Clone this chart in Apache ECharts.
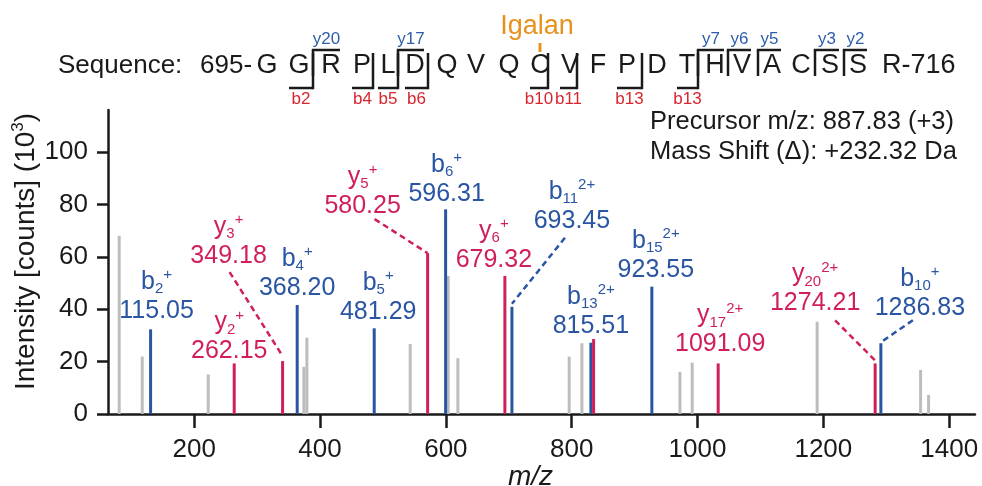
<!DOCTYPE html>
<html><head><meta charset="utf-8">
<script src="https://cdn.jsdelivr.net/npm/echarts@6/dist/echarts.min.js"></script>
<style>html,body{margin:0;padding:0;background:#fff}#c{width:982px;height:486px}</style>
</head><body><div id="c"></div>
<script>
// ---------------- data ----------------
const xTicks = [200, 400, 600, 800, 1000, 1200, 1400];
const yTicks = [0, 20, 40, 60, 80, 100];

const greyMz  = [80.8, 117.4, 222.3, 374.3, 379.1, 543.3, 603.7, 619.1, 796, 816.2, 972, 991.5, 1190.1, 1354.5, 1367.2];
const greyInt = [68.0, 21.9, 15.1, 18.0, 29.1, 26.7, 52.7, 21.3, 21.9, 27.0, 16.1, 19.6, 35.2, 16.8, 7.3];

const blueMz     = [130.7, 363.7, 486.1, 599.6, 705, 830.5, 927.4, 1291.4];
const blueInt    = [32.3, 41.6, 32.7, 78.1, 40.9, 27.2, 48.6, 27.0];
const blueIon    = ['b', 'b', 'b', 'b', 'b', 'b', 'b', 'b'];
const blueIonNum = ['2', '4', '5', '6', '11', '13', '15', '10'];
const blueCharge = ['+', '+', '+', '+', '2+', '2+', '2+', '+'];
const blueLabel  = ['115.05', '368.20', '481.29', '596.31', '693.45', '815.51', '923.55', '1286.83'];

const redMz     = [263.6, 340.5, 571, 693.8, 834.8, 1032.8, 1282.3];
const redInt    = [19.3, 20.2, 61.4, 52.7, 28.6, 19.3, 19.3];
const redIon    = ['y', 'y', 'y', 'y', null, 'y', 'y'];
const redIonNum = ['2', '3', '5', '6', null, '17', '20'];
const redCharge = ['+', '+', '+', '+', null, '2+', '2+'];
const redLabel  = ['262.15', '349.18', '580.25', '679.32', null, '1091.09', '1274.21'];

const seqTitle = 'Sequence:';
const seqStart = '695-';
const seqResidues = ['G','G','R','P','L','D','Q','V','Q','C','V','F','P','D','T','H','V','A','C','S','S'];
const seqEnd = 'R-716';
const bBracketIdx   = [1, 3, 4, 5, 9, 10, 12, 14];
const bBracketLabel = ['b2', 'b4', 'b5', 'b6', 'b10', 'b11', 'b13', 'b13'];
const yBracketIdx   = [2, 5, 15, 16, 17, 19, 20];
const yBracketLabel = ['y20', 'y17', 'y7', 'y6', 'y5', 'y3', 'y2'];
const modSiteIdx = 9;
const modName = 'Igalan';
const infoLines = ['Precursor m/z: 887.83 (+3)', 'Mass Shift (\u0394): +232.32 Da'];

// ---------------- layout / style ----------------
const FONT = '"Liberation Sans", Arial, Helvetica, sans-serif';
const BLUE = '#2a55a3', RED = '#d01f5a', GREY = '#bdbdbd', INK = '#1a1a1a';
const HDR_RED = '#d7262e', HDR_BLUE = '#2d5eab', ORANGE = '#e8921e';

// label placement, pixel offsets from bar top to centre of the value line
const labelLayout = {
  b2:  {dx: 6, dy: -18}, b4: {dx: 0, dy: -17}, b5: {dx: 4, dy: -16}, b6: {dx: 1, dy: -15},
  b11: {dx: 60, dy: -86, lead: [-7, 17], gap: 3},
  b13: {dx: 0, dy: -17}, b15: {dx: 4, dy: -17},
  b10: {dx: 39, dy: -35, lead: [-7, 12], gap: 1},
  y2:  {dx: -5, dy: -12},
  y3:  {dx: -54, dy: -105, lead: [1, 16], gap: 5},
  y5:  {dx: -65, dy: -47, lead: [12, 13], gap: 0},
  y6:  {dx: -11, dy: -16},
  y17: {dx: 2, dy: -19},
  y20: {dx: -60, dy: -60, lead: [20, 17], gap: 3}
};

const residueX = [267,299,331,362,388,415,447,476,509,540,570,598,627,657,687,715,742,772,801,830,858];
const bGapX = [313, 373, 398, 428, 548, 577, 642, 698];
const yGapX = [313, 398, 698, 728, 758, 815, 844];
const SEQ_Y = 66, BR_TOP = 50, BR_BOT = 88, BR_YBOT = 76, BLBL_Y = 99, YLBL_Y = 39;

function makeRender(color, ion, ionNum, charge, label) {
  return function (params, api) {
    const i = params.dataIndex;
    const base = api.coord([api.value(0), 0]);
    const top = api.coord([api.value(0), api.value(1)]);
    const children = [{
      type: 'line',
      shape: {x1: base[0], y1: base[1], x2: top[0], y2: top[1]},
      style: {stroke: color, lineWidth: 3}
    }];
    if (ion && ion[i]) {
      const L = labelLayout[ion[i] + ionNum[i]];
      const ax = top[0] + L.dx, ay = top[1] + L.dy;
      const rs = {fill: color, fontFamily: FONT, align: 'center'};
      children.push({
        type: 'text', x: ax, y: ay + 14.5, z2: 10,
        style: {
          text: '{m|' + ion[i] + '}{sub|' + ionNum[i] + '}{sup|' + charge[i] + '}\n{v|' + label[i] + '}',
          fill: color, fontFamily: FONT, fontSize: 25,
          align: 'center', verticalAlign: 'bottom',
          rich: {
            m:   Object.assign({fontSize: 25, lineHeight: 29}, rs),
            v:   Object.assign({fontSize: 25, lineHeight: 29}, rs),
            sub: Object.assign({fontSize: 15, lineHeight: 15, verticalAlign: 'bottom'}, rs),
            sup: Object.assign({fontSize: 15, lineHeight: 21, verticalAlign: 'top'}, rs)
          }
        }
      });
      if (L.lead) {
        children.push({
          type: 'line',
          shape: {x1: ax + L.lead[0], y1: ay + L.lead[1], x2: top[0], y2: top[1] - L.gap},
          style: {stroke: color, lineWidth: 2.5, lineDash: [6, 4]}
        });
      }
    }
    return {type: 'group', children: children};
  };
}

function peakSeries(name, mz, inten, color, ion, ionNum, charge, label) {
  return {
    type: 'custom', name: name, clip: false,
    encode: {x: 0, y: 1},
    data: mz.map((m, i) => [m, inten[i]]),
    renderItem: makeRender(color, ion, ionNum, charge, label)
  };
}

// ---------------- header graphic ----------------
function txt(text, x, y, size, color, align) {
  return {type: 'text', x: x, y: y,
    style: {text: text, fill: color, fontFamily: FONT, fontSize: size, align: align || 'center', verticalAlign: 'middle'}};
}
function seg(x1, y1, x2, y2, color, w) {
  return {type: 'line', shape: {x1: x1, y1: y1, x2: x2, y2: y2}, style: {stroke: color, lineWidth: w || 2.5}};
}
const graphics = [];
graphics.push(txt(seqTitle, 58, SEQ_Y, 26, INK, 'left'));
graphics.push(txt(seqStart, 200, SEQ_Y, 26, INK, 'left'));
seqResidues.forEach((r, i) => graphics.push(txt(r, residueX[i], SEQ_Y, 27, INK)));
graphics.push(txt(seqEnd, 882, SEQ_Y, 27, INK, 'left'));
bBracketIdx.forEach((ri, k) => {
  const gx = bGapX[k], sx = residueX[ri] - 10;
  graphics.push(seg(sx, BR_BOT, gx, BR_BOT, INK));
  graphics.push(seg(gx, BR_BOT + 1.2, gx, BR_TOP + 3, INK));
  graphics.push(txt(bBracketLabel[k], (sx + gx) / 2, BLBL_Y, 17, HDR_RED));
});
yBracketIdx.forEach((ri, k) => {
  const gx = yGapX[k], ex = residueX[ri] + 9;
  graphics.push(seg(gx - 1.2, BR_TOP, ex, BR_TOP, INK));
  graphics.push(seg(gx, BR_TOP, gx, BR_YBOT, INK));
  graphics.push(txt(yBracketLabel[k], (gx + ex) / 2, YLBL_Y, 17, HDR_BLUE));
});
graphics.push(txt(modName, residueX[modSiteIdx] - 3, 27, 27, ORANGE));
graphics.push(seg(residueX[modSiteIdx], 43, residueX[modSiteIdx], 52, ORANGE, 3));
graphics.push(txt(infoLines[0], 650, 122, 25.5, INK, 'left'));
graphics.push(txt(infoLines[1], 650, 152, 25.5, INK, 'left'));

// ---------------- chart ----------------
const chart = echarts.init(document.getElementById('c'), null, {renderer: 'canvas'});
chart.setOption({
  animation: false,
  backgroundColor: '#fff',
  textStyle: {fontFamily: FONT},
  grid: {left: 108, right: 7, top: 110, bottom: 72, containLabel: false, outerBoundsMode: 'none'},
  xAxis: {
    type: 'value', min: 63, max: 1441,
    axisLine: {lineStyle: {color: INK, width: 2.5}},
    axisTick: {customValues: xTicks, length: 14, lineStyle: {color: INK, width: 2.5}},
    axisLabel: {customValues: xTicks, margin: 23, fontSize: 26, color: INK, fontFamily: FONT,
      formatter: v => String(v)},
    splitLine: {show: false},
    name: 'm/z', nameLocation: 'middle', nameGap: 49, nameMoveOverlap: false,
    nameTextStyle: {fontStyle: 'italic', fontSize: 28, color: INK, fontFamily: FONT, padding: [0, 22, 0, 0]}
  },
  yAxis: {
    type: 'value', min: 0, max: 116,
    axisLine: {show: true, lineStyle: {color: INK, width: 2.5}},
    axisTick: {show: true, customValues: yTicks, length: 11, lineStyle: {color: INK, width: 2.5}},
    axisLabel: {customValues: yTicks, margin: 20, fontSize: 26, color: INK, fontFamily: FONT,
      formatter: v => String(v)},
    splitLine: {show: false},
    name: 'Intensity [counts] (10{sup|3})', nameLocation: 'middle', nameGap: 66, nameMoveOverlap: false,
    nameTextStyle: {fontSize: 28, lineHeight: 32, color: INK, fontFamily: FONT, padding: [0, 0, 0, 21],
      rich: {sup: {fontSize: 17, lineHeight: 16, verticalAlign: 'top', color: INK, fontFamily: FONT}}}
  },
  graphic: graphics,
  series: [
    peakSeries('grey', greyMz, greyInt, GREY),
    peakSeries('b', blueMz, blueInt, BLUE, blueIon, blueIonNum, blueCharge, blueLabel),
    peakSeries('y', redMz, redInt, RED, redIon, redIonNum, redCharge, redLabel)
  ]
});
</script>
</body></html>
